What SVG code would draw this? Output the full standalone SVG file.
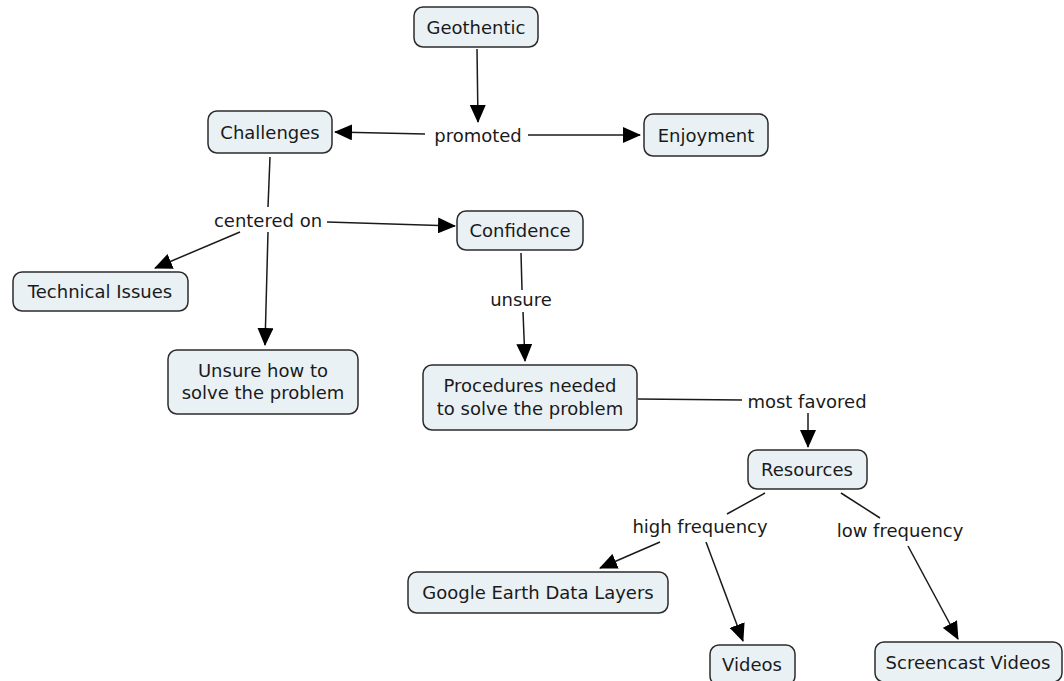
<svg xmlns="http://www.w3.org/2000/svg" width="1064" height="681" viewBox="0 0 1064 681">
<style>
.node rect{fill:#e9f1f5;stroke:#2b2b2b;stroke-width:1.5}
text{font-family:"DejaVu Sans","Liberation Sans",sans-serif;font-size:18px;fill:#1a1a1a;text-anchor:middle}
.conn line{stroke:#1a1a1a;stroke-width:1.5;fill:none}
.arr{marker-end:url(#ah)}
</style>
<defs>
<marker id="ah" markerWidth="18" markerHeight="16" refX="17" refY="8" orient="auto" markerUnits="userSpaceOnUse">
<path d="M0,0 L18,8 L0,16 Z" fill="#000"/>
</marker>
</defs>
<rect width="1064" height="681" fill="#fff"/>
<g id="connectors" class="conn">
<line class="arr" x1="477" y1="49" x2="478" y2="122"/>
<line class="arr" x1="425" y1="134" x2="335" y2="132"/>
<line class="arr" x1="528" y1="135" x2="640" y2="135"/>
<line x1="270" y1="157" x2="268" y2="207"/>
<line class="arr" x1="240" y1="232" x2="155" y2="268"/>
<line class="arr" x1="268" y1="232" x2="265" y2="345"/>
<line class="arr" x1="327" y1="222" x2="455" y2="226"/>
<line x1="521" y1="253" x2="522" y2="290"/>
<line class="arr" x1="523" y1="312" x2="525" y2="361"/>
<line x1="638" y1="399" x2="742" y2="400"/>
<line class="arr" x1="808" y1="413" x2="808" y2="447"/>
<line x1="765" y1="493" x2="727" y2="514"/>
<line class="arr" x1="660" y1="542" x2="600" y2="568"/>
<line class="arr" x1="706" y1="542" x2="743" y2="641"/>
<line x1="841" y1="493" x2="880" y2="518"/>
<line class="arr" x1="908" y1="546" x2="958" y2="639"/>
</g>
<g id="labels">
<text x="478" y="142">promoted</text>
<text x="268" y="227">centered on</text>
<text x="521" y="306">unsure</text>
<text x="807" y="408">most favored</text>
<text x="700" y="533">high frequency</text>
<text x="900" y="537">low frequency</text>
</g>
<g id="n-geothentic" class="node"><rect x="414" y="7" width="124" height="40" rx="9"/><text x="476" y="34">Geothentic</text></g>
<g id="n-enjoyment" class="node"><rect x="644" y="114" width="124" height="42" rx="9"/><text x="706" y="142">Enjoyment</text></g>
<g id="n-challenges" class="node"><rect x="208" y="111" width="124" height="42" rx="9"/><text x="270" y="139">Challenges</text></g>
<g id="n-confidence" class="node"><rect x="457" y="211" width="126" height="39" rx="9"/><text x="520" y="237">Confidence</text></g>
<g id="n-technical" class="node"><rect x="13" y="272" width="175" height="39" rx="9"/><text x="100" y="298">Technical Issues</text></g>
<g id="n-unsure" class="node"><rect x="168" y="350" width="190" height="64" rx="9"/><text x="263" y="377">Unsure how to</text><text x="263" y="399">solve the problem</text></g>
<g id="n-procedures" class="node"><rect x="423" y="365" width="214" height="65" rx="9"/><text x="530" y="392">Procedures needed</text><text x="530" y="415">to solve the problem</text></g>
<g id="n-resources" class="node"><rect x="748" y="450" width="119" height="39" rx="9"/><text x="807" y="476">Resources</text></g>
<g id="n-google" class="node"><rect x="408" y="572" width="260" height="41" rx="9"/><text x="538" y="599">Google Earth Data Layers</text></g>
<g id="n-videos" class="node"><rect x="710" y="645" width="85" height="40" rx="9"/><text x="752" y="671">Videos</text></g>
<g id="n-screencast" class="node"><rect x="875" y="642" width="187" height="40" rx="9"/><text x="968" y="669">Screencast Videos</text></g>
</svg>
